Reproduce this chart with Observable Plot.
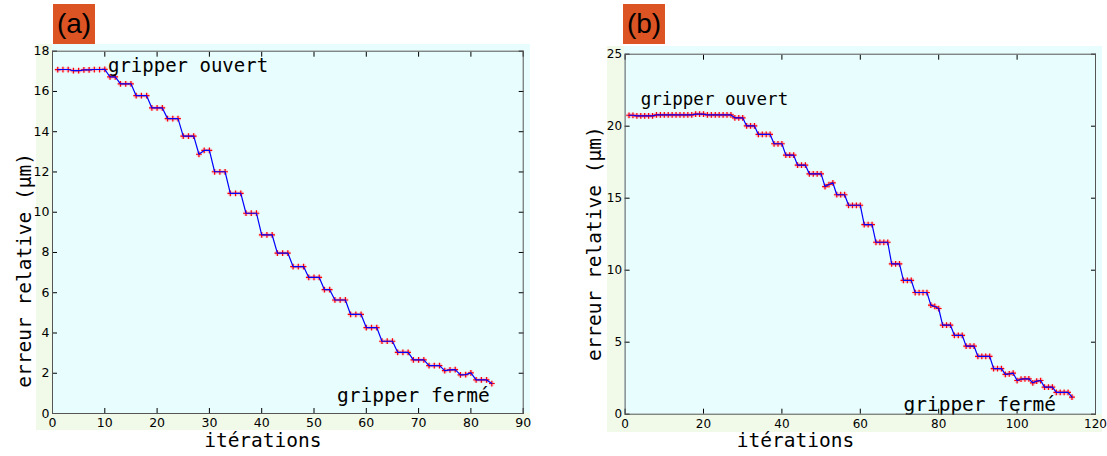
<!DOCTYPE html>
<html><head><meta charset="utf-8">
<script src="https://cdn.jsdelivr.net/npm/d3@7"></script>
<script src="https://cdn.jsdelivr.net/npm/@observablehq/plot@0.6"></script>
<style>
body{margin:0;background:#fff;}
#root{position:relative;width:1107px;height:456px;overflow:hidden;}
.bg{position:absolute;}
.tag{position:absolute;top:4px;width:42px;height:40px;background:#dc5424;color:#000;font-family:"Liberation Sans";font-size:28px;line-height:40px;text-align:center;}
.panel{position:absolute;top:0;}
</style></head><body>
<div id="root">
  <div class="bg" style="left:36px;top:44px;width:494px;height:386px;background:#f1f9e8"></div>
  <div class="bg" style="left:52px;top:44px;width:478px;height:369px;background:#e8fdfd"></div>
  <div class="bg" style="left:607px;top:46px;width:495px;height:386px;background:#f1f9e8"></div>
  <div class="bg" style="left:624px;top:46px;width:478px;height:368px;background:#e8fdfd"></div>
  <div class="tag" style="left:53px">(a)</div>
  <div class="tag" style="left:623px">(b)</div>
  <div class="panel" id="pa" style="left:0px"></div>
  <div class="panel" id="pb" style="left:560px"></div>
</div>
<script>
// Panel (a): relative error per iteration
const errA = [17.08,17.09,17.09,17.03,17.03,17.07,17.07,17.09,17.09,17.10,
  16.72,16.72, 16.38,16.38,16.38, 15.79,15.79,15.79, 15.18,15.18,15.18,
  14.65,14.65,14.65, 13.78,13.78,13.78, 12.88,13.07,13.07, 12.01,12.01,12.01,
  10.94,10.94,10.94, 9.95,9.95,9.95, 8.87,8.87,8.87, 7.97,7.97,7.97,
  7.30,7.30,7.30, 6.76,6.76,6.76, 6.15,6.15, 5.64,5.64,5.64, 4.92,4.92,4.92,
  4.27,4.27,4.27, 3.59,3.59,3.59, 3.04,3.04,3.04, 2.66,2.66,2.66,
  2.38,2.38,2.38, 2.13,2.17,2.18, 1.92,1.93,2.02, 1.67,1.67,1.67, 1.49];
// Panel (b)
const errB = [20.76,20.76, 20.72,20.72,20.72,20.72,20.72,
  20.78,20.78,20.78,20.78,20.78,20.78,20.78,20.78,20.78,20.78,
  20.84,20.84,20.84, 20.78,20.78,20.78,20.78,20.78,20.78,20.78,
  20.58,20.58,20.58, 20.02,20.02,20.02, 19.43,19.43,19.43,19.43,
  18.78,18.78,18.78, 17.99,17.99,17.99, 17.29,17.29,17.29,
  16.69,16.69,16.69,16.69, 15.81,15.95,16.07, 15.24,15.24,15.24,
  14.51,14.51,14.51,14.51, 13.17,13.17,13.17, 11.94,11.94,11.94,11.94,
  10.44,10.44,10.44, 9.29,9.29,9.29, 8.45,8.45,8.45,8.45,
  7.57,7.48,7.34, 6.18,6.18,6.18, 5.48,5.48,5.48, 4.73,4.73,4.73,
  4.02,4.02,4.02,4.02, 3.17,3.17,3.17, 2.76,2.80,2.85,
  2.34,2.43,2.46,2.46, 2.18,2.30,2.34, 1.88,1.88,1.88,
  1.51,1.51,1.51,1.51, 1.18];

const xTicksA = [0,10,20,30,40,50,60,70,80,90];
const yTicksA = [0,2,4,6,8,10,12,14,16,18];
const xTicksB = [0,20,40,60,80,100,120];
const yTicksB = [0,5,10,15,20,25];

const xLabel = "itérations";
const yLabel = "erreur relative (µm)";
const noteOpen = "gripper ouvert";
const noteClosed = "gripper fermé";

const mono = "DejaVu Sans Mono";
const ix = (d, i) => i + 1;

function panel(err, cfg) {
  return Plot.plot({
    width: cfg.width, height: 456,
    marginLeft: cfg.ml, marginRight: cfg.mr, marginTop: cfg.mt, marginBottom: cfg.mb,
    x: {domain: cfg.xd}, y: {domain: cfg.yd},
    style: {background: "transparent", fontFamily: "DejaVu Sans", fontSize: cfg.tfs, color: "#000", overflow: "visible"},
    marks: [
      Plot.frame({fill: "#e8fdfd"}),
      Plot.axisX(cfg.xt, {anchor: "bottom", tickSize: -5, tickPadding: 10, label: null}),
      Plot.axisX(cfg.xt, {anchor: "top", tickSize: -5, tickFormat: () => "", label: null}),
      Plot.axisY(cfg.yt, {anchor: "left", tickSize: -5, tickPadding: 8, label: null}),
      Plot.axisY(cfg.yt, {anchor: "right", tickSize: -5, tickFormat: () => "", label: null}),
      Plot.dot(err, {x: ix, y: d => d, r: 2.8, fill: "#ff8fa8", fillOpacity: 0.45, stroke: null}),
      Plot.dot(err, {x: ix, y: d => d, symbol: "plus", r: 2, stroke: "#ff0000", strokeWidth: 1.2}),
      Plot.line(err, {x: ix, y: d => d, stroke: "#0000ff", strokeWidth: 1.2}),
      Plot.text([noteOpen], {x: cfg.ox, y: cfg.oy, text: d => d, textAnchor: "start", lineAnchor: "bottom", fontFamily: mono, fontSize: cfg.ofs}),
      Plot.text([noteClosed], {x: cfg.cx, y: cfg.cy, text: d => d, textAnchor: "start", lineAnchor: "bottom", fontFamily: mono, fontSize: 19.5}),
      Plot.text([xLabel], {frameAnchor: "bottom", text: d => d, textAnchor: "middle", dx: cfg.xldx, dy: 33, fontFamily: mono, fontSize: 19.5}),
      Plot.text([yLabel], {frameAnchor: "left", text: d => d, textAnchor: "middle", rotate: -90, dx: cfg.yldx, dy: cfg.yldy, fontFamily: mono, fontSize: 19.5}),
      Plot.frame({stroke: "#555"})
    ]
  });
}

document.getElementById("pa").append(panel(errA, {
  width: 553, ml: 52, mr: 30.3, mt: 50.7, mb: 43, tfs: "12.5px",
  xd: [0, 90], yd: [0, 18], xt: xTicksA, yt: yTicksA,
  ox: 10.6, oy: 16.98, ofs: 19, cx: 54.4, cy: 0.56,
  xldx: -25, yldx: -28, yldy: 38
}));
document.getElementById("pb").append(panel(errB, {
  width: 547, ml: 64.6, mr: 12, mt: 53.7, mb: 42.3, tfs: "12px",
  xd: [0, 120], yd: [0, 25], xt: xTicksB, yt: yTicksB,
  ox: 3.97, oy: 21.44, ofs: 17.5, cx: 71.0, cy: 0.19,
  xldx: -64.8, yldx: -30.6, yldy: 9.5
}));
</script>
</body></html>
